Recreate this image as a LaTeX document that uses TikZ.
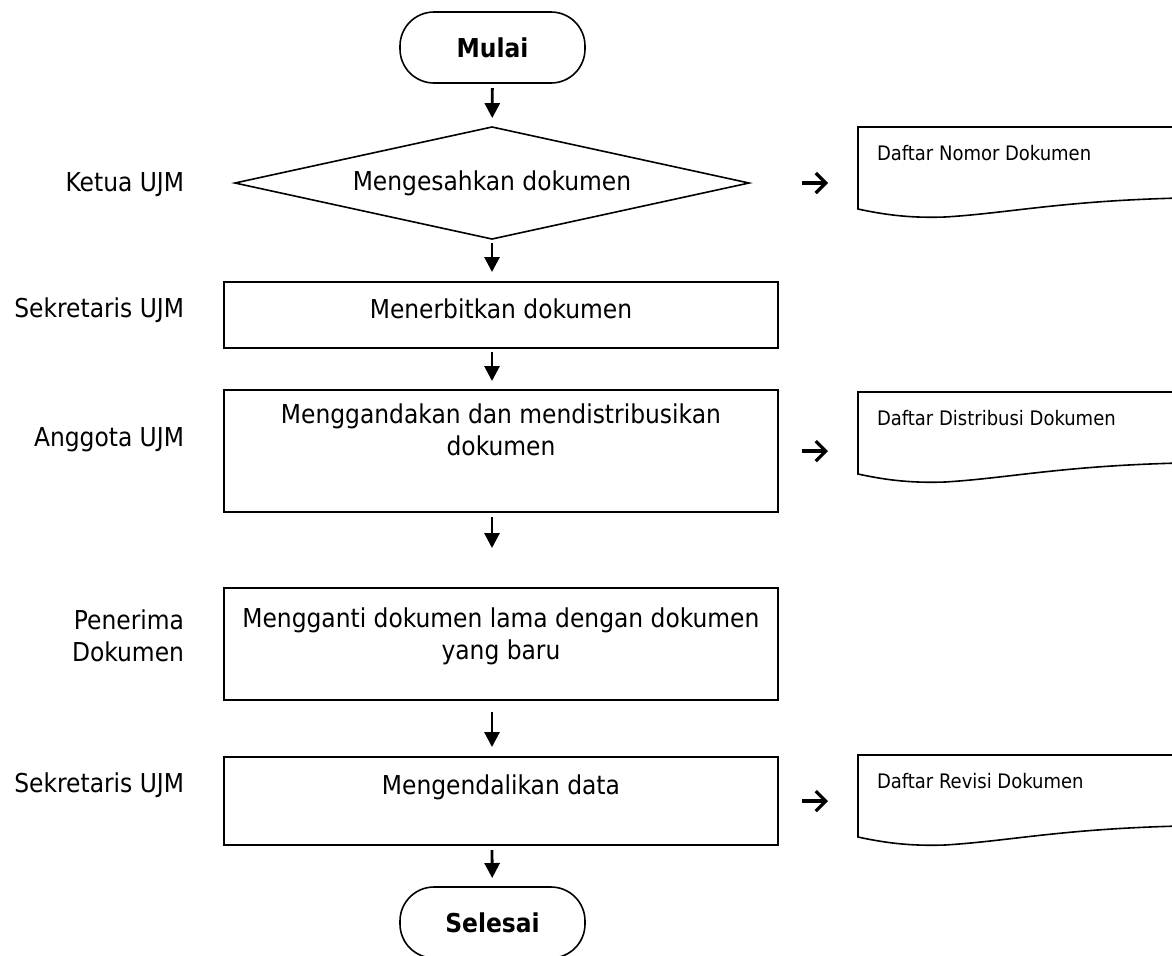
\documentclass[tikz,border=0pt]{standalone}
\usepackage{fontspec}
\setmainfont{DejaVu Sans Condensed}
\usetikzlibrary{shapes.geometric,arrows.meta,positioning}

\begin{document}
\begin{tikzpicture}[x=0.5pt,y=-0.5pt,font=\fontsize{13}{16}\selectfont]
\tikzstyle{every node}=[inner sep=0pt,outer sep=0pt]
\tikzstyle{terminal}=[draw,line width=0.8pt,rounded corners=17pt,minimum width=92.5pt,minimum height=35.5pt,font=\fontsize{13}{16}\selectfont\bfseries]
\tikzstyle{keputusan}=[draw,diamond,aspect=4.59,line width=0.8pt,minimum width=257pt,minimum height=56pt]
\tikzstyle{proses}=[draw,line width=0.8pt,minimum width=277pt]
\tikzstyle{isi}=[anchor=north,align=center,inner sep=7pt]
\tikzstyle{pelaku}=[anchor=east,align=right]
\tikzstyle{dokumen}=[anchor=north west,inner xsep=9.5pt,inner ysep=9pt,font=\fontsize{10}{12}\selectfont]
\tikzstyle{turun}=[line width=1.4pt,-{Triangle[length=7.5pt,width=7.5pt]}]
\tikzstyle{kanan}=[line width=1.6pt,-{Straight Barb[length=5pt,width=10pt]}]
\useasboundingbox (0,0) rectangle (1172,955);

% alur utama
\node[terminal] (mulai) at (492.5,47.5) {Mulai};
\node[keputusan] (sah) at (492,183) {Mengesahkan dokumen};
\node[proses,minimum height=33pt,label={[isi,inner sep=8.5pt]north:Menerbitkan dokumen}] (terbit) at (501,315) {};
\node[proses,minimum height=61pt,label={[isi]north:{Menggandakan dan mendistribusikan\\dokumen}}] (ganda) at (501,451) {};
\node[proses,minimum height=56pt,label={[isi,inner sep=10pt]north:{Mengganti dokumen lama dengan dokumen\\yang baru}}] (ganti) at (501,644) {};
\node[proses,minimum height=44pt,label={[isi,inner sep=9pt]north:Mengendalikan data}] (kendali) at (501,801) {};
\node[terminal] (selesai) at (492.5,922.5) {Selesai};

% pelaksana
\node[pelaku] (lketua) at (184,185) {Ketua UJM};
\node[pelaku] (lsekre) at (184,310) {Sekretaris UJM};
\node[pelaku] (langgota) at (184,440) {Anggota UJM};
\node[pelaku] (lterima) at (184,636) {Penerima\\Dokumen};
\node[pelaku] (lsekre2) at (184,785) {Sekretaris UJM};

% dokumen
\foreach \t in {127,392,755}
  \draw[line width=0.8pt] (1180,\t) -- (858,\t) -- (858,\t+82) .. controls (890,\t+89) and (915,\t+91) .. (945,\t+90) .. controls (1010,\t+86) and (1060,\t+74) .. (1180,\t+71);
\node[dokumen] (nomor) at (858,127) {Daftar Nomor Dokumen};
\node[dokumen] (distribusi) at (858,392) {Daftar Distribusi Dokumen};
\node[dokumen] (revisi) at (858,755) {Daftar Revisi Dokumen};

\draw[turun,shorten <=2.5pt,shorten >=4.5pt] (mulai) -- (sah);
\draw[turun,shorten <=2pt,shorten >=5pt] (sah) -- (terbit.north -| sah);
\draw[turun,shorten <=2pt,shorten >=4.5pt] (terbit.south -| sah) -- (ganda.north -| sah);
\draw[turun,shorten <=2.5pt,shorten >=20pt] (ganda.south -| sah) -- (ganti.north -| sah);
\draw[turun,shorten <=6pt,shorten >=5pt] (ganti.south -| sah) -- (kendali.north -| sah);
\draw[turun,shorten <=2.5pt,shorten >=4.5pt] (kendali.south -| sah) -- (selesai);

\draw[kanan,shorten <=26.5pt,shorten >=15pt] (sah.east) -- (sah.east -| nomor.west);
\draw[kanan,shorten <=12pt,shorten >=15pt] (ganda.east) -- (ganda.east -| distribusi.west);
\draw[kanan,shorten <=12pt,shorten >=15pt] (kendali.east) -- (kendali.east -| revisi.west);

\end{tikzpicture}
\end{document}
